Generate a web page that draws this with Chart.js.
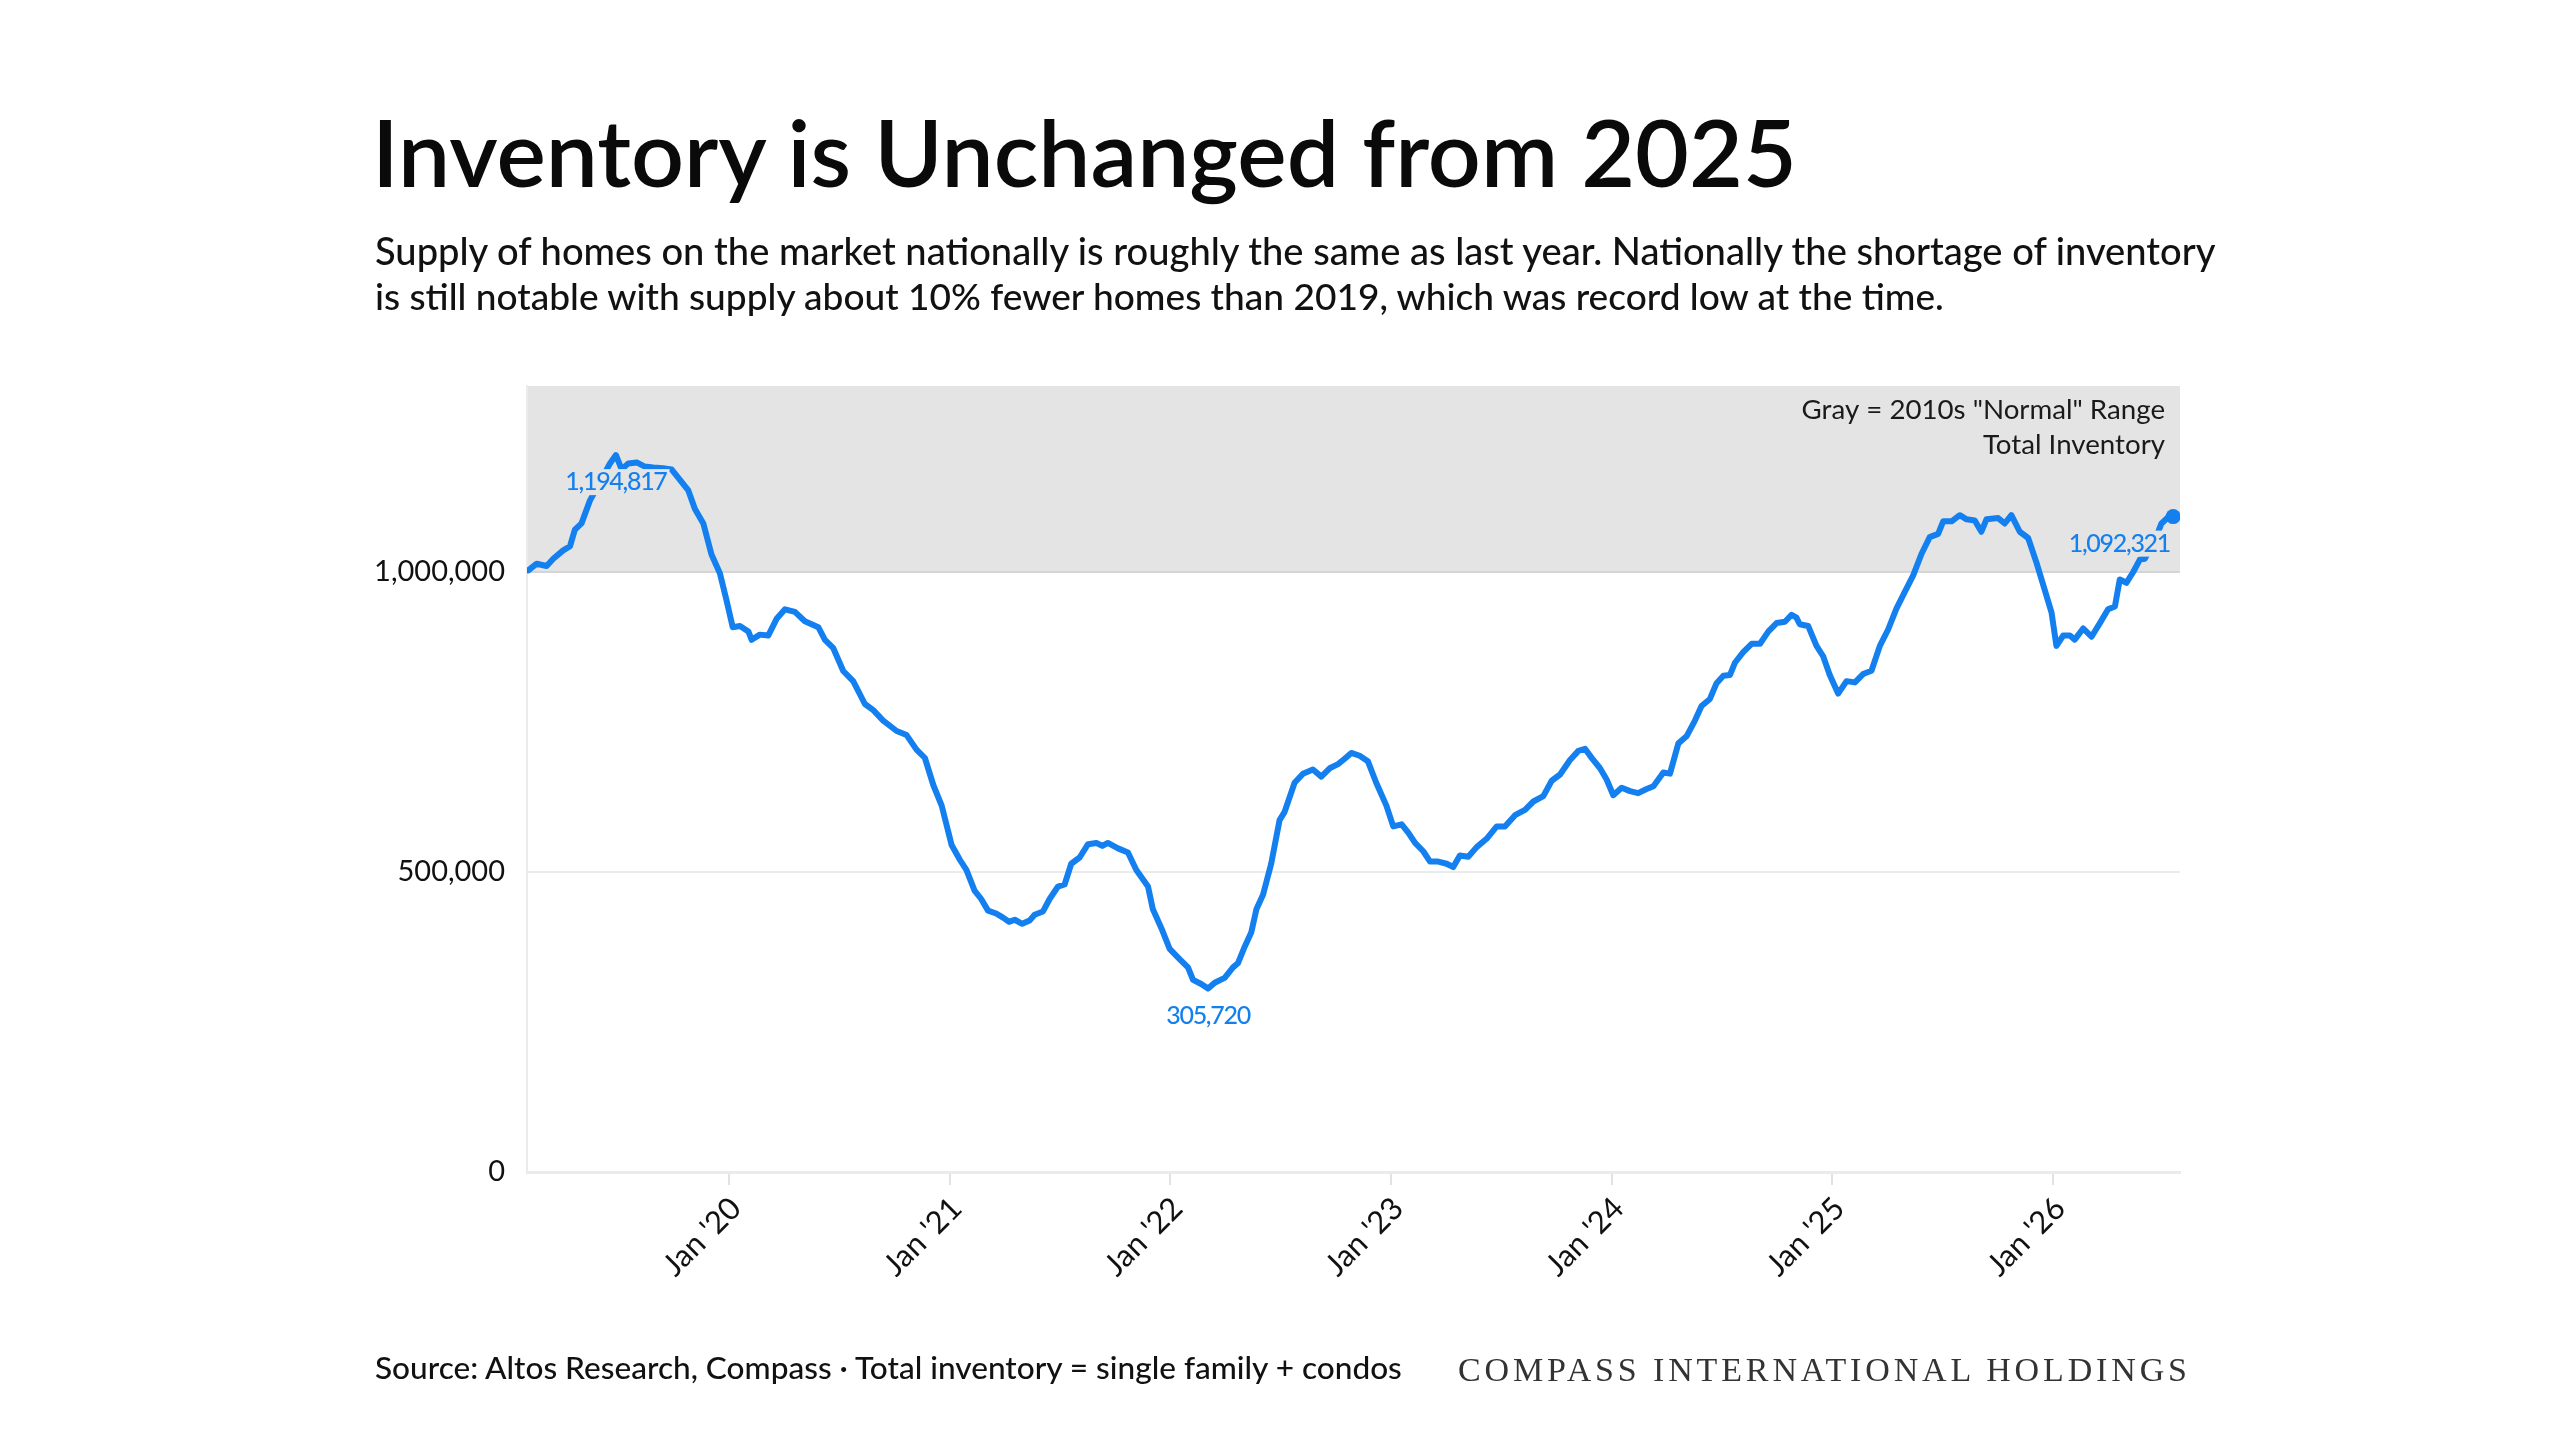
<!DOCTYPE html>
<html>
<head>
<meta charset="utf-8">
<script src="https://cdn.jsdelivr.net/npm/chart.js@4.4.1/dist/chart.umd.min.js"></script>
<style>
  html, body { margin: 0; padding: 0; background: #fff; }
  body { width: 2560px; height: 1440px; position: relative; overflow: hidden; }
  #chart { position: absolute; left: 0; top: 0; }
  .txt { position: absolute; white-space: nowrap; color: #111; font-family: Lato, sans-serif; line-height: 1.2; }
  #title { font-weight: 600; font-size: 96px; color: #0a0a0a; }
  .sub { font-size: 35px; font-weight: 500; }
  #source { font-size: 28px; font-weight: 500; }
  #brand { font-family: 'Liberation Serif', serif; font-size: 34px; color: #333; }
</style>
</head>
<body>
<canvas id="chart" width="2560" height="1440"></canvas>
<div class="txt" id="title" data-left="372" data-base="187" data-width="1425">Inventory is Unchanged from 2025</div>
<div class="txt sub" data-left="375" data-base="265" data-width="1841">Supply of homes on the market nationally is roughly the same as last year. Nationally the shortage of inventory</div>
<div class="txt sub" data-left="375" data-base="310" data-width="1569">is still notable with supply about 10% fewer homes than 2019, which was record low at the time.</div>
<div class="txt" id="source" data-left="375" data-base="1379" data-width="1027">Source: Altos Research, Compass · Total inventory = single family + condos</div>
<div class="txt" id="brand" data-left="1458" data-base="1381" data-width="729" data-fit="spacing">COMPASS INTERNATIONAL HOLDINGS</div>

<script>
// sample dates as decimal years
const dates = [
  2019.091, 2019.129, 2019.174, 2019.204, 2019.249, 2019.280, 2019.302, 2019.332, 2019.370, 2019.416,
  2019.461, 2019.488, 2019.514, 2019.544, 2019.582, 2019.619, 2019.657, 2019.702, 2019.740, 2019.778,
  2019.816, 2019.846, 2019.884, 2019.921, 2019.959, 2019.989, 2020.017, 2020.050, 2020.088, 2020.103,
  2020.140, 2020.178, 2020.216, 2020.254, 2020.299, 2020.344, 2020.405, 2020.435, 2020.473, 2020.518,
  2020.563, 2020.616, 2020.654, 2020.699, 2020.760, 2020.805, 2020.850, 2020.888, 2020.926, 2020.964,
  2021.009, 2021.047, 2021.076, 2021.113, 2021.143, 2021.174, 2021.211, 2021.242, 2021.269, 2021.295,
  2021.329, 2021.362, 2021.385, 2021.423, 2021.453, 2021.491, 2021.521, 2021.551, 2021.589, 2021.627,
  2021.665, 2021.692, 2021.717, 2021.763, 2021.808, 2021.846, 2021.899, 2021.921, 2021.959, 2021.997,
  2022.042, 2022.080, 2022.103, 2022.140, 2022.171, 2022.201, 2022.246, 2022.284, 2022.306, 2022.337,
  2022.367, 2022.390, 2022.420, 2022.457, 2022.495, 2022.518, 2022.563, 2022.601, 2022.646, 2022.684,
  2022.722, 2022.760, 2022.790, 2022.820, 2022.858, 2022.895, 2022.933, 2022.979, 2023.010, 2023.048,
  2023.078, 2023.109, 2023.146, 2023.177, 2023.214, 2023.252, 2023.282, 2023.312, 2023.350, 2023.388,
  2023.433, 2023.479, 2023.516, 2023.562, 2023.607, 2023.645, 2023.690, 2023.728, 2023.766, 2023.811,
  2023.849, 2023.879, 2023.909, 2023.947, 2023.977, 2024.007, 2024.045, 2024.083, 2024.120, 2024.158,
  2024.189, 2024.234, 2024.264, 2024.302, 2024.339, 2024.377, 2024.407, 2024.445, 2024.475, 2024.506,
  2024.536, 2024.559, 2024.596, 2024.634, 2024.672, 2024.710, 2024.747, 2024.785, 2024.815, 2024.837,
  2024.852, 2024.890, 2024.928, 2024.958, 2024.988, 2025.026, 2025.064, 2025.102, 2025.139, 2025.177,
  2025.215, 2025.253, 2025.290, 2025.328, 2025.366, 2025.404, 2025.441, 2025.479, 2025.502, 2025.540,
  2025.577, 2025.608, 2025.645, 2025.675, 2025.698, 2025.751, 2025.781, 2025.811, 2025.849, 2025.887,
  2025.925, 2025.962, 2025.993, 2026.015, 2026.046, 2026.076, 2026.098, 2026.136, 2026.174, 2026.212,
  2026.249, 2026.280, 2026.302, 2026.332, 2026.363, 2026.393, 2026.416, 2026.469, 2026.491, 2026.521,
  2026.544
];

const inventory = [
  1002800, 1013800, 1010000, 1022000, 1036000, 1043000, 1070500, 1081000, 1119000, 1150000,
  1181000, 1194817, 1171000, 1181000, 1182600, 1175700, 1174000, 1173000, 1171000, 1153500,
  1136000, 1105000, 1081000, 1029000, 998000, 953000, 908000, 910000, 901000, 887000,
  895600, 894000, 922000, 937800, 933600, 918000, 908000, 887000, 873000, 835000,
  818000, 780000, 769700, 752400, 735000, 728200, 704000, 690000, 645000, 610600,
  545000, 520000, 503400, 468800, 455000, 435600, 430800, 423900, 417000, 420400,
  413600, 419000, 428800, 434300, 455000, 475800, 479200, 513800, 524200, 546300,
  548400, 543500, 548400, 539400, 532500, 503400, 475800, 437800, 406700, 372000,
  354800, 341000, 320200, 313300, 305720, 315400, 323600, 341000, 347800, 375500,
  399700, 437800, 462000, 513800, 586400, 600300, 648700, 663900, 670800, 659000,
  672900, 679800, 688800, 698500, 693700, 684700, 648700, 610600, 576000, 579500,
  565700, 548400, 534600, 517300, 517300, 513800, 508300, 527600, 525500, 541500,
  555300, 576000, 576000, 594700, 603700, 617500, 626500, 652100, 662500, 686700,
  701900, 705400, 690200, 672900, 654200, 627900, 640400, 634800, 631400, 638300,
  643100, 665900, 663900, 714400, 726100, 752400, 776600, 788400, 814700, 827100,
  828500, 849200, 866500, 880400, 880400, 901100, 914900, 917000, 928800, 924000,
  912900, 910100, 876900, 859600, 828500, 797400, 818100, 816000, 829900, 835400,
  876900, 904600, 939100, 966800, 994500, 1030400, 1058100, 1063600, 1084400, 1084400,
  1094700, 1087800, 1085800, 1067100, 1087800, 1089900, 1080900, 1094700, 1067100, 1056700,
  1015200, 970300, 932200, 876900, 894200, 894200, 887300, 905900, 892100, 914900,
  937800, 942600, 987600, 982000, 1000000, 1020700, 1022100, 1060200, 1080900, 1091300,
  1092321
];

const tickYears = [2020, 2021, 2022, 2023, 2024, 2025, 2026];
const tickLabels = ["Jan '20", "Jan '21", "Jan '22", "Jan '23", "Jan '24", "Jan '25", "Jan '26"];
const yTicks = [0, 500000, 1000000];
const normalRange = [1000000, 1310000];
const xRange = [2019.085, 2026.575];
const noteLines = ['Gray = 2010s "Normal" Range', 'Total Inventory'];

const lineColor = '#1480ef';
const bandColor = '#e4e4e4';

// fit html text to the measured width and put its baseline where the reference has it
function placeText(el) {
  const target = +el.dataset.width;
  el.style.left = el.dataset.left + 'px';
  el.style.top = '0px';
  const mark = document.createElement('span');
  mark.style.cssText = 'display:inline-block;width:0;height:0;';
  el.appendChild(mark);
  const w = el.getBoundingClientRect().width;
  if (el.dataset.fit === 'spacing') {
    const n = el.textContent.length;
    el.style.letterSpacing = ((target - w) / (n - 1)) + 'px';
  } else {
    const fs = parseFloat(getComputedStyle(el).fontSize);
    el.style.fontSize = (fs * target / w) + 'px';
  }
  const b = mark.getBoundingClientRect().top;
  el.style.top = (+el.dataset.base - b) + 'px';
}
document.querySelectorAll('.txt').forEach(placeText);

const bandPlugin = {
  id: 'normalBand',
  beforeDraw(chart) {
    const { ctx, chartArea, scales: { y } } = chart;
    const top = y.getPixelForValue(normalRange[1]);
    const bottom = y.getPixelForValue(normalRange[0]);
    ctx.save();
    ctx.fillStyle = bandColor;
    ctx.fillRect(chartArea.left, top, chartArea.right - chartArea.left, bottom - top);
    ctx.restore();
  }
};

const labelPlugin = {
  id: 'valueLabels',
  afterDatasetsDraw(chart) {
    const { ctx, chartArea, scales: { x, y } } = chart;
    const peak = inventory.indexOf(Math.max(...inventory));
    const low = inventory.indexOf(Math.min(...inventory));
    const last = inventory.length - 1;
    const bandBottom = y.getPixelForValue(normalRange[0]);
    ctx.save();
    ctx.font = '500 25px Lato';
    ctx.letterSpacing = '-1.3px';
    ctx.textAlign = 'center';
    ctx.textBaseline = 'middle';
    [peak, low, last].forEach(i => {
      const text = inventory[i].toLocaleString('en-US');
      const w = ctx.measureText(text).width;
      const cx = Math.min(x.getPixelForValue(dates[i]), chartArea.right - 10 - w / 2);
      const cy = y.getPixelForValue(inventory[i]) + 27;
      ctx.fillStyle = cy < bandBottom ? bandColor : '#fff';
      ctx.fillRect(cx - w / 2 - 3, cy - 13, w + 6, 26);
      ctx.fillStyle = lineColor;
      ctx.fillText(text, cx, cy);
    });

    ctx.letterSpacing = '0px';
    ctx.font = '27.7px Lato';
    ctx.fillStyle = '#1a1a1a';
    ctx.textAlign = 'right';
    ctx.textBaseline = 'alphabetic';
    noteLines.forEach((t, k) => {
      ctx.fillText(t, chartArea.right - 15, chartArea.top + 33 + k * 34.5);
    });
    ctx.restore();
  }
};

new Chart(document.getElementById('chart'), {
  type: 'line',
  data: {
    datasets: [{
      label: 'Total Inventory',
      data: dates.map((d, i) => ({ x: d, y: inventory[i] })),
      borderColor: lineColor,
      backgroundColor: lineColor,
      borderWidth: 6,
      borderJoinStyle: 'round',
      borderCapStyle: 'round',
      tension: 0,
      pointRadius: ctx => (ctx.dataIndex === inventory.length - 1 ? 7.5 : 0),
      pointHoverRadius: 0,
      pointBorderWidth: 0,
      fill: false,
    }],
  },
  options: {
    responsive: false,
    animation: false,
    events: [],
    layout: { padding: { left: 367, right: 380, top: 386, bottom: 118 } },
    plugins: { legend: { display: false }, tooltip: { enabled: false } },
    scales: {
      x: {
        type: 'linear',
        min: xRange[0],
        max: xRange[1],
        afterBuildTicks: scale => { scale.ticks = tickYears.map(v => ({ value: v })); },
        afterFit: scale => {
          scale.height = 150;
          scale.paddingLeft = scale.paddingRight = scale.paddingTop = scale.paddingBottom = 0;
        },
        grid: { drawOnChartArea: false, drawTicks: true, tickLength: 13, color: '#e2e2e2', lineWidth: 2 },
        border: { color: '#ebebeb', width: 3 },
        ticks: {
          autoSkip: false,
          minRotation: 45,
          maxRotation: 45,
          padding: 5,
          labelOffset: 7,
          color: '#111',
          font: { family: 'Lato', size: 31 },
          callback: (v, i) => tickLabels[i],
        },
      },
      y: {
        min: 0,
        max: normalRange[1],
        afterBuildTicks: scale => { scale.ticks = yTicks.map(v => ({ value: v })); },
        afterFit: scale => {
          scale.width = 160;
          scale.paddingLeft = scale.paddingRight = scale.paddingTop = scale.paddingBottom = 0;
        },
        grid: {
          drawTicks: false,
          lineWidth: 2,
          color: ctx => (ctx.tick && ctx.tick.value === normalRange[0] ? '#d5d5d5' : '#ebebeb'),
        },
        border: { color: '#ebebeb', width: 2 },
        ticks: {
          padding: 22,
          color: '#111',
          font: { family: 'Lato', size: 29 },
          callback: v => v.toLocaleString('en-US'),
        },
      },
    },
  },
  plugins: [bandPlugin, labelPlugin],
});
</script>
</body>
</html>
